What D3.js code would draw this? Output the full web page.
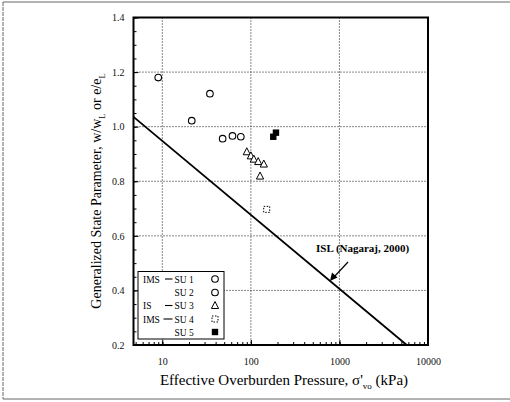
<!DOCTYPE html>
<html>
<head>
<meta charset="utf-8">
<script src="https://cdn.jsdelivr.net/npm/d3@7"></script>
<style>
  html, body { margin: 0; padding: 0; background: #fff; }
  svg { display: block; font-family: "Liberation Serif", "Times New Roman", serif; }
</style>
</head>
<body>
<svg id="chart" width="510" height="402"></svg>
<script>
// Effective overburden pressure (kPa) and generalized state parameter per sub-unit
const su1Pressure = [9, 21.5, 34.5];
const su1State    = [1.18, 1.022, 1.121];
const su2Pressure = [48, 62, 77];
const su2State    = [0.956, 0.966, 0.963];
const su3Pressure = [90, 100, 108, 121, 140, 127];
const su3State    = [0.908, 0.893, 0.881, 0.872, 0.863, 0.819];
const su4Pressure = [151];
const su4State    = [0.697];
const su5Pressure = [179, 192];
const su5State    = [0.963, 0.978];

// Intrinsic state line (Nagaraj, 2000) end points
const islPressure = [4.73, 5750];
const islState    = [1.036, 0.2];

const xTickValues = [10, 100, 1000, 10000];
const yTickValues = [0.2, 0.4, 0.6, 0.8, 1.0, 1.2, 1.4];

const legendRows = [
  { group: "IMS", dash: "—", unit: "SU 1", symbol: "circle" },
  { group: "",    dash: "",  unit: "SU 2", symbol: "circle" },
  { group: "IS",  dash: "—", unit: "SU 3", symbol: "triangle" },
  { group: "IMS", dash: "—", unit: "SU 4", symbol: "dotsquare" },
  { group: "",    dash: "",  unit: "SU 5", symbol: "square" }
];

const svg = d3.select("#chart");
const plot = { left: 133.5, right: 428, top: 17.5, bottom: 345 };

const x = d3.scaleLog().domain([4.73, 10000]).range([plot.left, plot.right]);
const y = d3.scaleLinear().domain([0.2, 1.4]).range([plot.bottom, plot.top]);

// outer frame of the figure
const frame = svg.append("g").attr("stroke", "#666").attr("fill", "none");
frame.append("line").attr("x1", 3).attr("x2", 3).attr("y1", 2).attr("y2", 399)
  .attr("stroke-dasharray", "4,1");
frame.append("line").attr("x1", 3).attr("x2", 510).attr("y1", 2).attr("y2", 2);
frame.append("line").attr("x1", 3).attr("x2", 510).attr("y1", 399).attr("y2", 399);

// dotted grid
const grid = svg.append("g").attr("stroke", "#111").attr("stroke-width", 1)
  .attr("stroke-dasharray", "1,2");
grid.selectAll("line.v").data([10, 100, 1000]).join("line")
  .attr("x1", d => x(d)).attr("x2", d => x(d))
  .attr("y1", plot.top).attr("y2", plot.bottom);
grid.selectAll("line.h").data([0.4, 0.6, 0.8, 1.0, 1.2]).join("line")
  .attr("x1", plot.left).attr("x2", plot.right)
  .attr("y1", d => y(d)).attr("y2", d => y(d));

// axes with inward ticks
const minorX = [];
for (let e = 1; e <= 1000; e *= 10) for (let k = 1; k <= 10; k++) {
  const v = k * e; if (v >= 5 && v <= 10000) minorX.push(v);
}
const minorY = d3.range(0.2, 1.4001, 0.05);

const xAxis = svg.append("g").attr("transform", `translate(0,${plot.bottom})`)
  .call(d3.axisBottom(x).tickValues(minorX).tickSize(-3).tickFormat(""));
const xLabels = svg.append("g").attr("transform", `translate(0,${plot.bottom})`)
  .call(d3.axisBottom(x).tickValues(xTickValues).tickSize(-5).tickPadding(13)
    .tickFormat(d3.format("d")));
const yAxis = svg.append("g").attr("transform", `translate(${plot.left},0)`)
  .call(d3.axisLeft(y).tickValues(minorY).tickSize(-3).tickFormat(""));
const yLabels = svg.append("g").attr("transform", `translate(${plot.left},0)`)
  .call(d3.axisLeft(y).tickValues(yTickValues).tickSize(-5).tickPadding(9)
    .tickFormat(d3.format(".1f")));

[xAxis, xLabels, yAxis, yLabels].forEach(g => {
  g.select(".domain").remove();
  g.selectAll("line").attr("stroke", "#000");
  g.selectAll("text").attr("font-family", "Liberation Serif").attr("font-size", 10)
    .attr("fill", "#111");
});

// plot border
svg.append("rect").attr("x", plot.left).attr("y", plot.top)
  .attr("width", plot.right - plot.left).attr("height", plot.bottom - plot.top)
  .attr("fill", "none").attr("stroke", "#000").attr("stroke-width", 2);

// ISL line
const islData = islPressure.map((p, i) => ({ p, v: islState[i] }));
svg.append("path").datum(islData)
  .attr("d", d3.line().x(d => x(d.p)).y(d => y(d.v)))
  .attr("fill", "none").attr("stroke", "#000").attr("stroke-width", 1.8);

// markers
function drawMarker(g, symbol, cx, cy) {
  if (symbol === "circle") {
    g.append("circle").attr("cx", cx).attr("cy", cy).attr("r", 3.3)
      .attr("fill", "#fff").attr("stroke", "#000").attr("stroke-width", 1.1);
  } else if (symbol === "triangle") {
    g.append("path").attr("d", `M${cx},${cy - 4}L${cx + 3.6},${cy + 3}L${cx - 3.6},${cy + 3}Z`)
      .attr("fill", "#fff").attr("stroke", "#000").attr("stroke-width", 1);
  } else if (symbol === "dotsquare") {
    g.append("rect").attr("x", cx - 3).attr("y", cy - 3).attr("width", 6).attr("height", 6)
      .attr("fill", "#fff").attr("stroke", "#000").attr("stroke-width", 1)
      .attr("stroke-dasharray", "1.5,1.5");
  } else {
    g.append("rect").attr("x", cx - 3.2).attr("y", cy - 3.2).attr("width", 6.4).attr("height", 6.4)
      .attr("fill", "#000");
  }
}

const series = [
  { p: su1Pressure, v: su1State, symbol: "circle" },
  { p: su2Pressure, v: su2State, symbol: "circle" },
  { p: su3Pressure, v: su3State, symbol: "triangle" },
  { p: su4Pressure, v: su4State, symbol: "dotsquare" },
  { p: su5Pressure, v: su5State, symbol: "square" }
];
const pts = svg.append("g");
series.forEach(s => s.p.forEach((p, i) => drawMarker(pts, s.symbol, x(p), y(s.v[i]))));

// ISL annotation
svg.append("text").attr("x", 316).attr("y", 252)
  .attr("font-size", 11).attr("font-weight", "bold").attr("fill", "#000")
  .text("ISL (Nagaraj, 2000)");
svg.append("line").attr("x1", 348).attr("y1", 262).attr("x2", 334).attr("y2", 277)
  .attr("stroke", "#000").attr("stroke-width", 1.2);
svg.append("path").attr("d", "M330,281L332,272.5L337.5,277.5Z").attr("fill", "#000");

// legend
const lg = svg.append("g");
lg.append("rect").attr("x", 138).attr("y", 271.5).attr("width", 86).attr("height", 67.5)
  .attr("fill", "#fff").attr("stroke", "#000").attr("stroke-width", 1);
const rowY = [279, 292.5, 305.5, 319, 332];
legendRows.forEach((r, i) => {
  const cy = rowY[i];
  const t = lg.append("g").attr("font-size", 9.5).attr("fill", "#000");
  if (r.group) t.append("text").attr("x", 143).attr("y", cy + 3.5).text(r.group);
  if (r.dash) {
    const x1 = r.unit === "SU 4" ? 163.5 : 165;
    t.append("line").attr("x1", x1).attr("x2", 172.5).attr("y1", cy).attr("y2", cy)
      .attr("stroke", "#000").attr("stroke-width", 1.1);
  }
  t.append("text").attr("x", 174.5).attr("y", cy + 3.5).text(r.unit);
  drawMarker(lg, r.symbol, 215, cy);
});

// axis titles
const xt = svg.append("text").attr("x", 284).attr("y", 385).attr("text-anchor", "middle")
  .attr("font-size", 15).attr("fill", "#000");
xt.append("tspan").text("Effective Overburden Pressure, σ'");
xt.append("tspan").attr("font-size", 9).attr("dy", 4).text("vo");
xt.append("tspan").attr("dy", -4).text(" (kPa)");

const yt = svg.append("text").attr("transform", "translate(101,191) rotate(-90)")
  .attr("text-anchor", "middle").attr("font-size", 14).attr("fill", "#000");
yt.append("tspan").text("Generalized State Parameter, w/w");
yt.append("tspan").attr("font-size", 8.5).attr("dy", 4).text("L");
yt.append("tspan").attr("dy", -4).text(" or e/e");
yt.append("tspan").attr("font-size", 8.5).attr("dy", 4).text("L");
</script>
</body>
</html>
